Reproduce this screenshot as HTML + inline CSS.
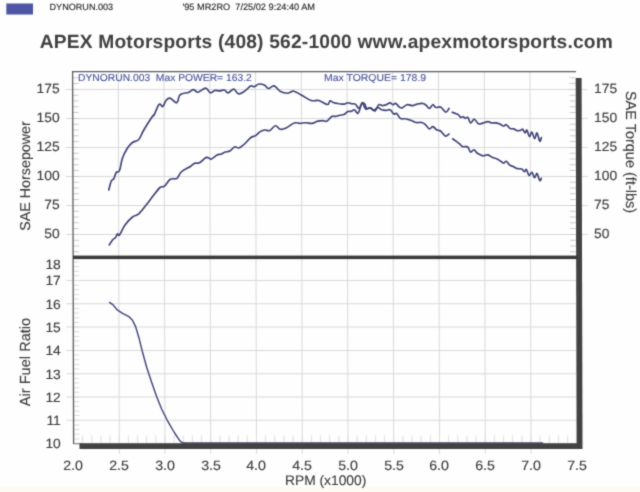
<!DOCTYPE html>
<html><head><meta charset="utf-8"><title>Dyno Run</title>
<style>
html,body{margin:0;padding:0;background:#fefefe;}
body{width:640px;height:492px;position:relative;overflow:hidden;font-family:"Liberation Sans",sans-serif;color:#3d3d3d;}
.t{position:absolute;white-space:pre;line-height:1;text-rendering:geometricPrecision;-webkit-text-stroke:0.15px currentColor;}
.r{text-align:right;}
.c{text-align:center;}
#w{position:absolute;left:0;top:0;width:640px;height:492px;filter:url(#soft);}
</style></head><body><div id="w">
<svg width="640" height="492" viewBox="0 0 640 492" style="position:absolute;left:0;top:0">
<defs><filter id="soft" x="0" y="0" width="100%" height="100%" color-interpolation-filters="sRGB"><feConvolveMatrix order="3" kernelMatrix="1 3 1 3 16 3 1 3 1" divisor="32" edgeMode="duplicate" preserveAlpha="false"/></filter></defs>
<g transform="matrix(1 0 0.0027 1 -0.6966 0)">
<path d="M118.8,72 V454 M164.5,72 V454 M210.2,72 V454 M256.0,72 V454 M301.8,72 V454 M347.5,72 V454 M393.2,72 V454 M439.0,72 V454 M484.8,72 V454 M530.5,72 V454 M66,89.4 H588 M66,118.4 H588 M66,147.4 H588 M66,176.4 H588 M66,205.4 H588 M66,234.4 H588 M66,420.3 H576 M66,397.0 H576 M66,373.7 H576 M66,350.4 H576 M66,327.1 H576 M66,303.8 H576 M66,280.5 H576" stroke="#d9d9d9" stroke-width="1" fill="none"/>
<path d="M73,77.8 h6 M576,77.8 h-6 M73,83.6 h6 M576,83.6 h-6 M73,89.4 h6 M576,89.4 h-6 M73,95.2 h6 M576,95.2 h-6 M73,101.0 h6 M576,101.0 h-6 M73,106.8 h6 M576,106.8 h-6 M73,112.6 h6 M576,112.6 h-6 M73,118.4 h6 M576,118.4 h-6 M73,124.2 h6 M576,124.2 h-6 M73,130.0 h6 M576,130.0 h-6 M73,135.8 h6 M576,135.8 h-6 M73,141.6 h6 M576,141.6 h-6 M73,147.4 h6 M576,147.4 h-6 M73,153.2 h6 M576,153.2 h-6 M73,159.0 h6 M576,159.0 h-6 M73,164.8 h6 M576,164.8 h-6 M73,170.6 h6 M576,170.6 h-6 M73,176.4 h6 M576,176.4 h-6 M73,182.2 h6 M576,182.2 h-6 M73,188.0 h6 M576,188.0 h-6 M73,193.8 h6 M576,193.8 h-6 M73,199.6 h6 M576,199.6 h-6 M73,205.4 h6 M576,205.4 h-6 M73,211.2 h6 M576,211.2 h-6 M73,217.0 h6 M576,217.0 h-6 M73,222.8 h6 M576,222.8 h-6 M73,228.6 h6 M576,228.6 h-6 M73,234.4 h6 M576,234.4 h-6 M73,240.2 h6 M576,240.2 h-6 M73,246.0 h6 M576,246.0 h-6 M73,251.8 h6 M576,251.8 h-6" stroke="#cbcbcf" stroke-width="1" fill="none"/>
<path d="M73,443.6 h6 M73,438.9 h6 M73,434.3 h6 M73,429.6 h6 M73,425.0 h6 M73,420.3 h6 M73,415.6 h6 M73,411.0 h6 M73,406.3 h6 M73,401.7 h6 M73,397.0 h6 M73,392.3 h6 M73,387.7 h6 M73,383.0 h6 M73,378.4 h6 M73,373.7 h6 M73,369.0 h6 M73,364.4 h6 M73,359.7 h6 M73,355.1 h6 M73,350.4 h6 M73,345.7 h6 M73,341.1 h6 M73,336.4 h6 M73,331.8 h6 M73,327.1 h6 M73,322.4 h6 M73,317.8 h6 M73,313.1 h6 M73,308.5 h6 M73,303.8 h6 M73,299.1 h6 M73,294.5 h6 M73,289.8 h6 M73,285.2 h6 M73,280.5 h6 M73,275.8 h6 M73,271.2 h6 M73,266.5 h6 M73,261.9 h6" stroke="#dcdce0" stroke-width="1" fill="none"/>
<path d="M82.2,435.5 v7.5 M91.3,435.5 v7.5 M100.5,435.5 v7.5 M109.6,435.5 v7.5 M118.8,435.5 v7.5 M127.9,435.5 v7.5 M137.1,435.5 v7.5 M146.2,435.5 v7.5 M155.3,435.5 v7.5 M164.5,435.5 v7.5 M173.7,435.5 v7.5 M182.8,435.5 v7.5 M191.9,435.5 v7.5 M201.1,435.5 v7.5 M210.2,435.5 v7.5 M219.4,435.5 v7.5 M228.6,435.5 v7.5 M237.7,435.5 v7.5 M246.8,435.5 v7.5 M256.0,435.5 v7.5 M265.1,435.5 v7.5 M274.3,435.5 v7.5 M283.4,435.5 v7.5 M292.6,435.5 v7.5 M301.8,435.5 v7.5 M310.9,435.5 v7.5 M320.1,435.5 v7.5 M329.2,435.5 v7.5 M338.4,435.5 v7.5 M347.5,435.5 v7.5 M356.6,435.5 v7.5 M365.8,435.5 v7.5 M374.9,435.5 v7.5 M384.1,435.5 v7.5 M393.2,435.5 v7.5 M402.4,435.5 v7.5 M411.6,435.5 v7.5 M420.7,435.5 v7.5 M429.9,435.5 v7.5 M439.0,435.5 v7.5 M448.1,435.5 v7.5 M457.3,435.5 v7.5 M466.4,435.5 v7.5 M475.6,435.5 v7.5 M484.8,435.5 v7.5 M493.9,435.5 v7.5 M503.1,435.5 v7.5 M512.2,435.5 v7.5 M521.4,435.5 v7.5 M530.5,435.5 v7.5 M539.6,435.5 v7.5 M548.8,435.5 v7.5 M558.0,435.5 v7.5 M567.1,435.5 v7.5" stroke="#dedee6" stroke-width="1" fill="none"/>
<path d="M73.1,444 V71.7 H576.5" stroke="#5c5c5c" stroke-width="1.3" fill="none"/>
<path d="M73,443.8 H81" stroke="#777" stroke-width="1" fill="none"/>
</g>
<path d="M575.7,78 L581.6,78 L582.5,449 L576.6,449 Z" fill="#424242"/>
<rect x="79.5" y="443.2" width="502.5" height="5.8" fill="#424242"/>
<rect x="73" y="255.6" width="505" height="3.5" fill="#3a3a3a"/>
<path d="M108.8,190.0 C109.2,188.4 110.3,183.3 111.2,181.2 C112.2,179.2 112.8,180.3 113.8,178.8 C114.7,177.2 115.2,174.0 116.2,172.5 C117.3,171.0 118.4,173.1 119.5,170.5 C120.6,167.9 121.1,162.1 122.5,158.0 C123.9,153.9 125.7,150.8 127.5,148.0 C129.3,145.2 130.5,144.0 132.5,142.5 C134.5,141.0 136.7,141.8 138.8,139.5 C140.8,137.2 141.3,134.2 143.8,130.0 C146.2,125.8 150.6,119.0 152.5,116.2 C154.4,113.5 152.9,117.1 154.1,115.0 C155.3,112.9 157.5,105.9 159.1,104.4 C160.7,102.9 161.6,107.3 162.8,106.6 C164.0,105.9 164.7,102.0 166.0,100.5 C167.3,99.0 168.1,97.7 170.0,98.1 C171.9,98.5 174.9,103.2 176.6,102.8 C178.3,102.3 178.4,97.2 179.4,95.6 C180.4,94.0 180.5,94.4 182.2,93.8 C183.9,93.1 186.7,93.0 188.8,92.2 C190.8,91.5 191.7,89.6 193.4,89.6 C195.1,89.6 195.9,92.5 198.1,92.2 C200.3,92.0 203.4,88.0 205.6,88.1 C207.8,88.2 208.6,92.4 210.3,92.8 C212.0,93.2 213.3,90.7 215.0,90.4 C216.7,90.1 218.0,91.0 219.7,90.9 C221.4,90.8 222.9,89.7 224.4,90.0 C225.9,90.3 226.4,93.0 228.1,92.8 C229.8,92.6 231.9,88.9 233.8,89.1 C235.6,89.3 236.4,93.4 238.4,93.8 C240.4,94.1 242.8,92.3 245.0,90.9 C247.2,89.5 248.9,86.7 250.6,85.9 C252.3,85.1 252.9,86.9 254.4,86.6 C255.9,86.3 257.2,84.2 259.1,84.0 C261.0,83.8 263.0,84.5 264.7,85.3 C266.4,86.1 266.7,88.4 268.4,88.5 C270.1,88.6 271.9,85.4 274.1,85.9 C276.3,86.4 278.2,90.2 280.6,91.5 C283.0,92.8 284.8,93.2 287.2,93.2 C289.6,93.2 291.2,90.9 293.8,91.2 C296.3,91.6 298.1,93.3 301.2,95.0 C304.4,96.7 308.1,99.5 311.2,100.5 C314.4,101.5 315.8,99.8 318.8,100.5 C321.7,101.2 325.5,104.4 327.5,104.5 C329.5,104.6 328.9,101.2 330.0,100.9 C331.1,100.6 332.1,102.3 333.8,102.8 C335.4,103.3 337.6,103.5 339.4,103.8 C341.2,104.0 342.5,104.3 344.0,104.1 C345.5,103.9 346.4,102.9 347.8,102.8 C349.2,102.7 350.2,103.5 351.6,103.8 C353.0,104.0 354.0,103.3 355.3,104.1 C356.6,104.9 357.7,108.6 359.0,108.4 C360.3,108.2 361.1,102.7 362.2,102.8 C363.4,102.9 364.2,108.1 365.6,109.0 C367.0,109.9 368.8,107.7 370.3,107.9 C371.8,108.1 372.6,110.4 374.0,110.3 C375.4,110.2 376.4,107.6 377.8,107.5 C379.2,107.4 380.1,109.2 381.6,109.8 C383.1,110.3 384.7,110.3 386.2,110.3 C387.8,110.3 388.6,109.1 390.0,109.8 C391.4,110.4 392.6,113.3 393.8,114.0 C394.9,114.7 395.4,112.7 396.6,113.5 C397.8,114.3 398.8,117.5 400.3,118.4 C401.8,119.3 403.5,118.5 405.0,118.8 C406.5,119.0 407.4,119.3 408.8,119.7 C410.1,120.1 411.1,120.5 412.5,121.0 C413.9,121.5 414.6,122.2 416.2,122.5 C417.9,122.8 420.2,122.1 421.9,122.5 C423.6,122.9 424.2,123.6 425.6,124.8 C427.0,125.9 428.1,128.7 429.4,129.0 C430.7,129.3 431.4,126.4 432.8,126.6 C434.1,126.8 435.5,129.2 436.9,130.0 C438.3,130.8 439.1,129.9 440.6,131.0 C442.1,132.1 443.8,135.5 445.3,136.0 C446.8,136.5 448.3,134.4 449.0,134.0" stroke="#3d4276" stroke-width="1.65" fill="none" stroke-linejoin="round" stroke-linecap="round"/>
<path d="M452.7,138.8 C453.3,139.2 454.8,140.3 456.0,141.2 C457.2,142.1 458.4,142.9 459.6,143.9 C460.8,144.9 461.4,146.1 462.4,146.6 C463.4,147.1 464.1,146.5 465.1,146.6 C466.1,146.7 466.9,146.2 467.9,147.2 C468.9,148.2 469.5,151.6 470.6,152.1 C471.7,152.6 472.7,149.6 473.9,149.8 C475.1,150.0 475.9,152.2 477.0,153.0 C478.1,153.8 478.6,154.0 479.8,154.5 C481.0,155.0 481.9,155.7 483.4,155.8 C484.9,155.9 486.3,154.6 488.0,154.9 C489.7,155.2 491.0,156.9 492.6,157.6 C494.2,158.3 495.6,158.2 497.1,158.9 C498.6,159.6 499.6,160.5 500.8,161.3 C502.0,162.1 502.5,163.1 503.5,163.1 C504.5,163.1 505.2,161.0 506.3,161.3 C507.4,161.6 508.1,163.9 509.4,164.9 C510.7,165.9 512.2,166.1 513.6,166.8 C515.0,167.5 515.8,168.2 517.3,168.6 C518.8,169.0 520.5,168.5 521.8,169.1 C523.1,169.7 523.8,171.6 524.6,171.7 C525.4,171.8 525.6,168.8 526.4,169.5 C527.2,170.2 528.1,174.9 529.1,175.4 C530.1,175.9 530.9,171.9 531.9,172.3 C532.9,172.7 533.7,177.5 534.6,177.7 C535.5,177.9 536.1,173.0 537.0,173.5 C537.9,174.0 538.9,179.6 539.7,180.5 C540.5,181.4 541.1,178.7 541.4,178.3" stroke="#3d4276" stroke-width="1.65" fill="none" stroke-linejoin="round" stroke-linecap="round"/>
<path d="M109.2,245.0 C109.8,244.1 111.4,241.3 112.5,240.0 C113.6,238.7 114.6,238.6 115.5,237.5 C116.4,236.4 116.8,234.2 117.5,233.8 C118.2,233.3 118.2,236.6 119.5,235.0 C120.8,233.4 122.7,228.2 125.0,225.0 C127.3,221.8 130.0,219.0 132.5,217.0 C135.0,215.0 136.3,215.9 138.8,213.8 C141.2,211.6 143.6,208.4 146.2,205.0 C148.9,201.6 151.3,198.2 153.8,195.0 C156.2,191.8 158.1,189.1 160.0,187.5 C161.9,185.9 162.7,187.7 164.5,186.2 C166.3,184.8 168.1,180.8 170.0,179.5 C171.9,178.2 173.7,179.0 175.0,178.8 C176.3,178.5 176.4,179.2 177.5,178.0 C178.6,176.8 179.4,173.8 181.2,172.0 C183.1,170.2 185.9,168.9 187.5,168.0 C189.1,167.1 188.7,167.6 190.0,166.8 C191.3,166.0 193.0,164.0 194.7,163.3 C196.4,162.6 197.3,163.9 199.4,162.8 C201.5,161.7 204.3,158.1 206.4,157.4 C208.5,156.7 209.2,159.5 211.1,159.1 C213.0,158.7 215.1,156.0 217.0,155.1 C218.9,154.2 220.1,154.5 221.6,153.9 C223.1,153.3 223.7,152.5 225.2,152.0 C226.7,151.5 228.1,152.0 229.8,151.1 C231.5,150.2 232.9,147.5 234.5,146.9 C236.1,146.3 237.1,148.4 238.8,148.0 C240.4,147.6 241.7,146.4 243.9,144.5 C246.1,142.6 248.8,139.1 250.9,137.5 C253.0,135.9 253.9,136.7 255.6,135.6 C257.3,134.5 258.6,132.6 260.3,131.6 C262.0,130.6 263.3,130.2 265.0,130.0 C266.7,129.8 267.8,131.3 269.7,130.5 C271.6,129.7 273.6,126.0 275.5,125.8 C277.4,125.6 278.3,128.9 280.2,129.3 C282.1,129.7 283.6,129.2 286.1,128.1 C288.6,127.0 291.8,123.8 294.3,123.0 C296.8,122.2 298.1,123.5 300.2,123.4 C302.3,123.3 303.9,122.7 306.0,122.7 C308.1,122.7 309.8,123.7 311.9,123.4 C314.0,123.1 315.8,121.6 317.7,121.1 C319.6,120.6 320.7,120.6 322.4,120.6 C324.1,120.6 325.4,121.9 327.1,121.1 C328.8,120.3 330.3,117.2 331.8,116.4 C333.3,115.6 333.8,116.6 335.3,116.4 C336.8,116.2 338.4,115.5 340.0,115.2 C341.6,114.9 342.6,115.2 344.0,114.6 C345.4,114.0 346.4,112.2 347.8,111.6 C349.2,111.0 350.4,111.6 351.6,111.2 C352.8,110.9 353.2,109.4 354.4,109.8 C355.6,110.1 356.8,114.2 358.1,113.1 C359.5,112.0 360.7,105.0 361.9,103.4 C363.1,101.8 363.9,103.2 364.7,104.1 C365.5,105.0 365.6,107.7 366.6,108.4 C367.6,109.1 368.8,107.5 370.3,107.9 C371.8,108.4 373.5,111.5 375.0,110.9 C376.5,110.3 377.4,105.7 378.8,104.7 C380.1,103.7 381.1,105.6 382.5,105.6 C383.9,105.6 384.9,105.2 386.2,104.7 C387.6,104.2 388.8,102.8 390.0,102.8 C391.2,102.8 391.8,104.6 392.8,104.7 C393.8,104.8 394.4,103.0 395.6,103.4 C396.8,103.8 398.2,106.3 399.4,107.1 C400.6,107.9 400.8,108.3 402.2,107.9 C403.6,107.5 405.0,105.1 406.9,104.7 C408.8,104.3 410.6,105.7 412.5,105.6 C414.4,105.5 415.5,104.5 417.2,104.1 C418.9,103.7 420.4,103.3 421.9,103.4 C423.4,103.5 424.2,103.8 425.6,104.7 C427.0,105.6 428.1,108.4 429.4,108.4 C430.7,108.4 431.6,104.9 432.8,104.7 C433.9,104.5 434.5,107.1 435.9,107.5 C437.3,107.9 438.8,106.3 440.6,107.1 C442.4,107.9 444.4,112.0 445.9,112.2 C447.4,112.4 448.4,109.1 449.0,108.4" stroke="#3d4276" stroke-width="1.65" fill="none" stroke-linejoin="round" stroke-linecap="round"/>
<path d="M452.3,112.4 C453.0,112.6 454.8,113.2 456.0,113.7 C457.2,114.2 457.9,114.3 458.7,115.0 C459.5,115.7 459.7,117.1 460.5,117.4 C461.3,117.7 462.5,116.6 463.3,116.8 C464.1,117.0 464.3,118.2 465.1,118.3 C465.9,118.4 466.9,116.6 467.9,117.4 C468.9,118.2 469.4,122.6 470.6,122.9 C471.8,123.2 473.0,119.1 474.3,119.2 C475.6,119.3 476.7,122.6 477.9,123.4 C479.1,124.2 479.7,123.9 480.7,123.8 C481.7,123.7 482.1,123.3 483.4,122.9 C484.7,122.5 486.5,121.6 488.0,121.6 C489.5,121.6 490.1,122.7 491.6,122.9 C493.1,123.1 494.7,122.7 496.2,122.9 C497.7,123.1 498.6,123.5 499.9,124.1 C501.2,124.7 502.3,125.9 503.5,126.0 C504.7,126.1 505.1,124.3 506.3,124.7 C507.5,125.1 508.6,127.6 509.9,128.4 C511.2,129.2 512.3,128.5 513.6,128.9 C514.9,129.3 516.0,130.5 517.3,130.7 C518.6,130.9 519.9,130.5 520.9,130.2 C521.9,129.9 521.9,128.8 522.7,129.3 C523.5,129.8 524.3,132.7 525.1,132.9 C525.9,133.1 526.1,129.5 526.9,130.2 C527.7,130.9 528.6,136.3 529.5,136.6 C530.4,136.9 531.0,131.6 531.9,132.0 C532.8,132.4 533.7,138.6 534.6,138.8 C535.5,139.0 536.1,132.5 537.0,132.9 C537.9,133.3 538.9,140.4 539.7,141.2 C540.5,142.0 541.1,138.2 541.4,137.5" stroke="#3d4276" stroke-width="1.65" fill="none" stroke-linejoin="round" stroke-linecap="round"/>
<path d="M109.5,302.4 L112.8,304.6 L117.6,310.2 L122.5,313.4 L129.0,316.7 L132.3,320.0 L135.5,326.4 L138.8,337.2 L142.0,350.2 L146.9,368.0 L151.8,382.7 L156.7,396.7 L161.5,408.7 L168.0,421.7 L174.6,433.0 L179.4,440.2 L181.5,442.2 L184.0,443.2" stroke="#3f467c" stroke-width="1.45" fill="none" stroke-linejoin="round" stroke-linecap="round"/>
<path d="M183,443.1 H543" stroke="#474a60" stroke-width="1.6" fill="none"/>
<rect x="0" y="487" width="640" height="5" fill="#fcf9ea" opacity="0.7"/>
<rect x="6.3" y="3.5" width="26.7" height="11" fill="#4f55a5"/>
</svg>
<div class="t " style="left:49.5px;top:3.0px;font-size:9.1px;color:#2c2c2c;-webkit-text-stroke:0.15px currentColor;">DYNORUN.003</div>
<div class="t " style="left:182.5px;top:2.9px;font-size:9.2px;color:#2c2c2c;-webkit-text-stroke:0.15px currentColor;">'95 MR2RO  7/25/02 9:24:40 AM</div>
<div class="t " style="left:39.7px;top:32.9px;font-size:19.2px;font-weight:bold;color:#404040;letter-spacing:0.2px;-webkit-text-stroke:0;">APEX Motorsports (408) 562-1000 www.apexmotorsports.com</div>
<div class="t " style="left:77.8px;top:74.1px;font-size:10.0px;color:#44509a;transform-origin:0 0;transform:scale(1.03,1);-webkit-text-stroke:0.1px currentColor;">DYNORUN.003  Max POWER= 163.2</div>
<div class="t " style="left:324.4px;top:74.1px;font-size:10.0px;color:#44509a;transform-origin:0 0;transform:scale(1.045,1);-webkit-text-stroke:0.1px currentColor;">Max TORQUE= 178.9</div>
<div class="t r" style="left:20px;width:39.6px;top:82.4px;font-size:13.3px;transform-origin:right center;transform:scaleX(1.04);">175</div>
<div class="t" style="left:594.3px;top:82.4px;font-size:13.3px;transform-origin:left center;transform:scaleX(1.04);">175</div>
<div class="t r" style="left:20px;width:39.6px;top:111.4px;font-size:13.3px;transform-origin:right center;transform:scaleX(1.04);">150</div>
<div class="t" style="left:594.3px;top:111.4px;font-size:13.3px;transform-origin:left center;transform:scaleX(1.04);">150</div>
<div class="t r" style="left:20px;width:39.6px;top:140.4px;font-size:13.3px;transform-origin:right center;transform:scaleX(1.04);">125</div>
<div class="t" style="left:594.3px;top:140.4px;font-size:13.3px;transform-origin:left center;transform:scaleX(1.04);">125</div>
<div class="t r" style="left:20px;width:39.6px;top:169.4px;font-size:13.3px;transform-origin:right center;transform:scaleX(1.04);">100</div>
<div class="t" style="left:594.3px;top:169.4px;font-size:13.3px;transform-origin:left center;transform:scaleX(1.04);">100</div>
<div class="t r" style="left:20px;width:39.6px;top:198.4px;font-size:13.3px;transform-origin:right center;transform:scaleX(1.04);">75</div>
<div class="t" style="left:594.3px;top:198.4px;font-size:13.3px;transform-origin:left center;transform:scaleX(1.04);">75</div>
<div class="t r" style="left:20px;width:39.6px;top:227.4px;font-size:13.3px;transform-origin:right center;transform:scaleX(1.04);">50</div>
<div class="t" style="left:594.3px;top:227.4px;font-size:13.3px;transform-origin:left center;transform:scaleX(1.04);">50</div>
<div class="t r" style="left:20px;width:40.8px;top:437.4px;font-size:13.3px;transform-origin:right center;transform:scaleX(1.04);">10</div>
<div class="t r" style="left:20px;width:40.8px;top:414.1px;font-size:13.3px;transform-origin:right center;transform:scaleX(1.04);">11</div>
<div class="t r" style="left:20px;width:40.8px;top:390.8px;font-size:13.3px;transform-origin:right center;transform:scaleX(1.04);">12</div>
<div class="t r" style="left:20px;width:40.8px;top:367.5px;font-size:13.3px;transform-origin:right center;transform:scaleX(1.04);">13</div>
<div class="t r" style="left:20px;width:40.8px;top:344.2px;font-size:13.3px;transform-origin:right center;transform:scaleX(1.04);">14</div>
<div class="t r" style="left:20px;width:40.8px;top:320.9px;font-size:13.3px;transform-origin:right center;transform:scaleX(1.04);">15</div>
<div class="t r" style="left:20px;width:40.8px;top:297.6px;font-size:13.3px;transform-origin:right center;transform:scaleX(1.04);">16</div>
<div class="t r" style="left:20px;width:40.8px;top:274.3px;font-size:13.3px;transform-origin:right center;transform:scaleX(1.04);">17</div>
<div class="t r" style="left:20px;width:40.8px;top:258.0px;font-size:13.3px;transform-origin:right center;transform:scaleX(1.04);">18</div>
<div class="t c" style="left:53.4px;width:40px;top:459.3px;font-size:13.4px;transform:scaleX(1.06);">2.0</div>
<div class="t c" style="left:99.2px;width:40px;top:459.3px;font-size:13.4px;transform:scaleX(1.06);">2.5</div>
<div class="t c" style="left:144.9px;width:40px;top:459.3px;font-size:13.4px;transform:scaleX(1.06);">3.0</div>
<div class="t c" style="left:190.7px;width:40px;top:459.3px;font-size:13.4px;transform:scaleX(1.06);">3.5</div>
<div class="t c" style="left:236.4px;width:40px;top:459.3px;font-size:13.4px;transform:scaleX(1.06);">4.0</div>
<div class="t c" style="left:282.1px;width:40px;top:459.3px;font-size:13.4px;transform:scaleX(1.06);">4.5</div>
<div class="t c" style="left:327.9px;width:40px;top:459.3px;font-size:13.4px;transform:scaleX(1.06);">5.0</div>
<div class="t c" style="left:373.6px;width:40px;top:459.3px;font-size:13.4px;transform:scaleX(1.06);">5.5</div>
<div class="t c" style="left:419.4px;width:40px;top:459.3px;font-size:13.4px;transform:scaleX(1.06);">6.0</div>
<div class="t c" style="left:465.1px;width:40px;top:459.3px;font-size:13.4px;transform:scaleX(1.06);">6.5</div>
<div class="t c" style="left:510.9px;width:40px;top:459.3px;font-size:13.4px;transform:scaleX(1.06);">7.0</div>
<div class="t c" style="left:556.6px;width:40px;top:459.3px;font-size:13.4px;transform:scaleX(1.06);">7.5</div>
<div class="t " style="left:285.0px;top:474.2px;font-size:13.8px;">RPM (x1000)</div>
<div class="t" style="left:26px;top:175.8px;font-size:14.3px;transform:translate(-50%,-50%) rotate(-90deg);">SAE Horsepower</div>
<div class="t" style="left:26.2px;top:362.2px;font-size:14.6px;transform:translate(-50%,-50%) rotate(-90deg);">Air Fuel Ratio</div>
<div class="t" style="left:629.6px;top:152.4px;font-size:14.5px;transform:translate(-50%,-50%) rotate(90deg);">SAE Torque (ft-lbs)</div>
</div></body></html>
